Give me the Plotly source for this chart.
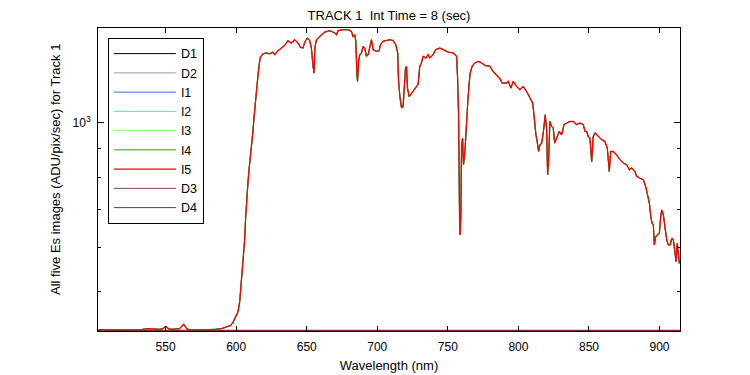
import math
import plotly.graph_objects as go

# Wavelength (nm) of the sampled spectrum
wavelength = [502.1, 510.3, 513.6, 516.0, 525.2, 531.6, 537.2, 542.2, 545.7, 547.9, 550.2, 552.1, 554.3, 559.9,
              562.8, 564.9, 567.0, 574.1, 581.2, 585.5, 589.7, 592.6, 594.2, 596.1, 597.7, 599.4, 601.3, 602.5,
              603.7, 604.4, 605.3, 606.0, 606.7, 607.7, 608.4, 609.1, 610.1, 610.8, 611.9, 612.6, 613.6, 614.5,
              615.5, 616.5, 617.2, 619.0, 621.4, 623.8, 626.1, 627.3, 629.6, 632.1, 634.4, 636.7, 639.1, 641.5,
              643.8, 645.7, 647.4, 648.6, 650.5, 652.1, 653.3, 654.5, 655.2, 655.7, 656.9, 659.2, 661.6, 662.8,
              666.3, 669.9, 671.1, 672.2, 675.7, 679.3, 681.7, 682.8, 684.0, 684.8, 685.5, 686.0, 686.7, 687.6,
              688.8, 689.9, 691.1, 692.3, 693.5, 694.7, 695.9, 697.0, 699.4, 701.3, 702.3, 704.1, 706.5, 708.9,
              711.2, 713.1, 714.5, 715.0, 716.0, 717.2, 718.3, 719.0, 720.0, 720.7, 721.4, 722.6, 724.3, 725.4,
              726.6, 727.8, 728.9, 730.1, 731.3, 732.5, 734.4, 736.0, 737.2, 739.6, 741.3, 744.3, 746.7, 750.2,
              753.8, 756.2, 756.9, 757.6, 758.3, 758.7, 759.2, 759.7, 760.4, 761.1, 762.1, 763.0, 764.0, 764.9,
              765.8, 767.2, 769.1, 771.5, 773.9, 776.2, 779.8, 782.1, 784.5, 786.9, 788.5, 791.6, 792.8, 794.7,
              796.3, 798.7, 801.1, 803.4, 805.8, 808.2, 810.1, 811.0, 811.7, 812.4, 813.3, 814.3, 815.3, 816.5,
              817.6, 818.3, 819.0, 820.0, 820.7, 821.4, 822.3, 823.5, 824.7, 825.7, 827.1, 828.9, 830.6, 832.3,
              834.2, 836.5, 838.9, 841.3, 843.6, 846.0, 847.2, 848.4, 849.5, 850.7, 851.9, 853.0, 854.3, 856.6,
              859.0, 861.3, 863.0, 863.7, 864.4, 865.4, 867.2, 869.6, 872.0, 874.3, 876.7, 878.6, 880.3, 882.6,
              883.8, 886.2, 888.5, 890.2, 891.6, 892.8, 893.8, 894.7, 895.6, 896.3, 897.3, 898.4, 899.9, 900.9,
              901.6, 902.7, 903.9, 905.1, 906.2, 907.5, 908.7, 909.8, 911.0, 911.7, 912.6, 913.3, 914.0, 914.5]

# Es image signal (ADU/pix/sec) - the five illuminated images overlap almost exactly
es_signal = [428, 428, 429, 428, 429, 428, 430, 429, 429, 430, 434, 430, 429, 430,
             438, 430, 428, 428, 428, 429, 430, 433, 434, 436, 441, 449, 461, 480,
             518, 551, 574, 618, 676, 723, 785, 824, 864, 894, 964, 1018, 1097, 1167,
             1216, 1276, 1307, 1324, 1329, 1324, 1334, 1320, 1341, 1356, 1371, 1398, 1384, 1403,
             1384, 1360, 1356, 1390, 1413, 1398, 1356, 1258, 1224, 1356, 1403, 1422, 1442, 1448,
             1456, 1442, 1432, 1456, 1462, 1462, 1452, 1422, 1432, 1394, 1232, 1183, 1284, 1320,
             1329, 1365, 1356, 1311, 1320, 1365, 1403, 1347, 1338, 1341, 1375, 1394, 1398, 1403,
             1398, 1375, 1329, 1191, 1112, 1061, 1068, 1143, 1250, 1258, 1151, 1112, 1128, 1135,
             1151, 1159, 1167, 1258, 1276, 1311, 1302, 1320, 1302, 1320, 1347, 1356, 1347, 1334,
             1329, 1311, 1200, 1032, 680, 631, 685, 900, 938, 841, 888, 1004, 1075, 1159,
             1224, 1258, 1276, 1284, 1276, 1263, 1258, 1232, 1216, 1196, 1175, 1175, 1183, 1151,
             1183, 1159, 1143, 1159, 1135, 1105, 1083, 1032, 977, 951, 925, 888, 913, 919,
             958, 1004, 1032, 971, 807, 858, 1004, 984, 977, 919, 938, 964, 951, 991,
             998, 1004, 1004, 991, 998, 991, 964, 964, 944, 938, 852, 944, 958, 944,
             932, 925, 900, 858, 818, 888, 888, 876, 858, 847, 841, 824, 830, 818,
             802, 796, 791, 769, 744, 719, 680, 662, 658, 606, 627, 631, 636, 685,
             699, 685, 649, 618, 606, 606, 623, 618, 586, 566, 610, 578, 562, 565]

# Dark images: flat at the floor of the axis
dark_wavelength = [502.1, 914.5]
dark_signal = [427, 427]

series_names = ["D1", "D2", "I1", "I2", "I3", "I4", "I5", "D3", "D4"]
series_colors = ["#000000", "#999999", "#1f78e6", "#00ffff", "#80ff80", "#00b400", "#ff0000", "#7f4c4c", "#803232"]
dark_series = {"D1", "D2", "D3", "D4"}

y_range_vals = [426, 1472]
x_range_vals = [502.1, 914.5]
x_ticks = [550, 600, 650, 700, 750, 800, 850, 900]
y_major = [1000]
y_minor = [500, 600, 700, 800, 900]

fig = go.Figure()
for name, color in zip(series_names, series_colors):
    if name in dark_series:
        xs, ys = dark_wavelength, dark_signal
    else:
        xs, ys = wavelength, es_signal
    fig.add_trace(go.Scatter(x=xs, y=ys, mode="lines", name=name,
                             line=dict(color=color, width=1.3 if name == "I5" else 1.0)))

FONT = "Liberation Sans, Arial, sans-serif"
W, H = 742, 367  # page body adds an 8px margin
fig.update_layout(
    width=W, height=H,
    margin=dict(l=90, r=70, t=20, b=44, autoexpand=False),
    paper_bgcolor="white", plot_bgcolor="white",
    font=dict(family=FONT, size=12, color="black"),
    title=dict(text="TRACK 1\u00a0\u00a0Int Time = 8 (sec)", x=(389 - 8) / W, xanchor="center",
               y=1 - (15 - 8) / H, yanchor="middle", font=dict(size=13, family=FONT, color="black")),
    showlegend=True,
    legend=dict(x=0.017, y=0.967, xanchor="left", yanchor="top",
                bgcolor="white", bordercolor="black", borderwidth=1,
                font=dict(size=12.5, family=FONT, color="black"),
                itemwidth=62, tracegroupgap=0),
    annotations=[dict(text="All five Es images (ADU/pix/sec) for Track 1", textangle=-90,
                      x=(55 - 98) / 582, y=1 - (170 - 28) / 303, xref="paper", yref="paper",
                      xanchor="center", yanchor="middle", showarrow=False,
                      font=dict(size=13, family=FONT, color="black"))],
)

fig.update_xaxes(
    range=x_range_vals, tickvals=x_ticks, ticks="inside", ticklen=5, tickcolor="black",
    showline=True, linecolor="black", linewidth=1, mirror="allticks", showgrid=False, zeroline=False,
    ticklabelstandoff=5, automargin=False,
    title=dict(text="Wavelength (nm)", font=dict(size=13, family=FONT, color="black"), standoff=7),
    tickfont=dict(size=12, family=FONT, color="black"),
)
fig.update_yaxes(
    type="log", range=[math.log10(y_range_vals[0]), math.log10(y_range_vals[1])],
    tickvals=y_major, ticktext=["10<sup>3</sup>"], ticks="inside", ticklen=6, tickcolor="black",
    minor=dict(tickvals=y_minor, ticks="inside", ticklen=3, tickcolor="black", showgrid=False),
    showline=True, linecolor="black", linewidth=1, mirror="allticks", showgrid=False, zeroline=False,
    ticklabelstandoff=4, automargin=False,
    tickfont=dict(size=12, family=FONT, color="black"),
)

fig.write_html("out.html")
